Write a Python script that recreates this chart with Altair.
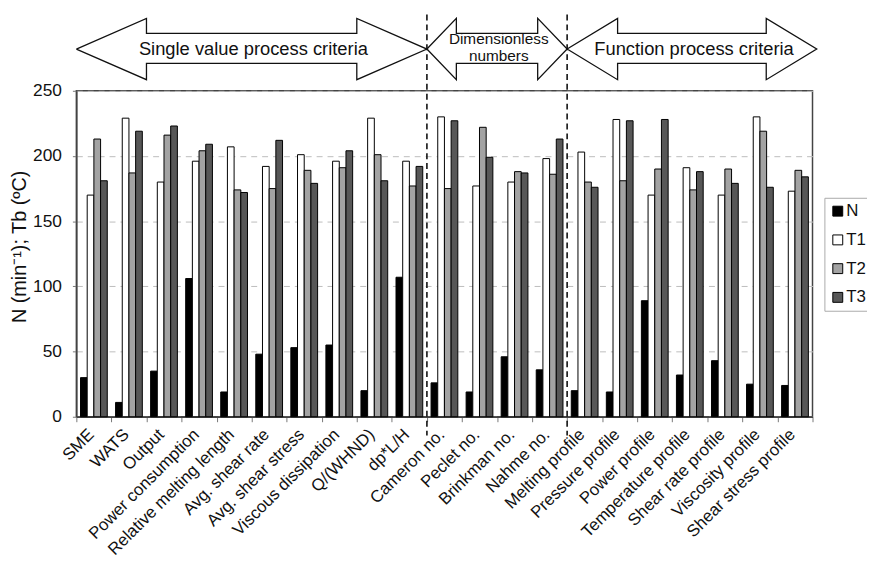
import altair as alt
import pandas as pd

categories = ["SME", "WATS", "Output", "Power consumption", "Relative melting length",
              "Avg. shear rate", "Avg. shear stress", "Viscous dissipation", "Q/(WHND)",
              "dp*L/H", "Cameron no.", "Peclet no.", "Brinkman no.", "Nahme no.",
              "Melting profile", "Pressure profile", "Power profile", "Temperature profile",
              "Shear rate profile", "Viscosity profile", "Shear stress profile"]
series = ["N", "T1", "T2", "T3"]
N_vals = [30, 11, 35, 106, 19, 48, 53, 55, 20, 107, 26, 19, 46, 36, 20, 19, 89, 32, 43, 25, 24]
T1_vals = [170, 229, 180, 196, 207, 192, 201, 196, 229, 196, 230, 177, 180, 198, 203, 228, 170, 191, 170, 230, 173]
T2_vals = [213, 187, 216, 204, 174, 175, 189, 191, 201, 177, 175, 222, 188, 186, 180, 181, 190, 174, 190, 219, 189]
T3_vals = [181, 219, 223, 209, 172, 212, 179, 204, 181, 192, 227, 199, 187, 213, 176, 227, 228, 188, 179, 176, 184]
series_colors = ["#000000", "#ffffff", "#a3a3a3", "#575757"]

# group boundaries (dashed lines) and group labels
boundary_cats = ["Cameron no.", "Melting profile"]
arrow_start = [0, 10, 14]
arrow_end = [10, 14, 21.12]
arrow_head = [2.0, 0.84, 1.44]
arrow_text = ["Single value process criteria", "Dimensionless\nnumbers", "Function process criteria"]
arrow_text_x = [5.05, 12.05, 17.62]

FONT = "Liberation Sans"

rows = []
for s, vals in zip(series, [N_vals, T1_vals, T2_vals, T3_vals]):
    for c, v in zip(categories, vals):
        rows.append({"cat": c, "series": s, "value": v})
df = pd.DataFrame(rows)

# arrow outlines
Y_HT, Y_ST, Y_TIP, Y_SB, Y_HB = 305.5, 294.0, 282.0, 271.0, 258.5
arr_rows = []
for i, (a, b, h) in enumerate(zip(arrow_start, arrow_end, arrow_head)):
    pts = [(a, Y_TIP), (a + h, Y_HT), (a + h, Y_ST), (b - h, Y_ST), (b - h, Y_HT),
           (b, Y_TIP), (b - h, Y_HB), (b - h, Y_SB), (a + h, Y_SB), (a + h, Y_HB), (a, Y_TIP)]
    for k, (px, py) in enumerate(pts):
        arr_rows.append({"arrow": i, "k": k, "ax": px, "ay": py})
arr_df = pd.DataFrame(arr_rows)

txt_big = pd.DataFrame({"tx": [arrow_text_x[0], arrow_text_x[2]],
                        "ty": [Y_TIP, Y_TIP],
                        "t": [arrow_text[0], arrow_text[2]]})
txt_small = pd.DataFrame({"tx": [arrow_text_x[1]], "ty": [Y_TIP], "t": [arrow_text[1]]})

xscale_band = alt.Scale(domain=categories, paddingInner=0, paddingOuter=0)
xscale_q = alt.Scale(domain=[0, 21], nice=False, zero=False)
yscale = alt.Scale(domain=[0, 250], nice=False, zero=False)

bars = alt.Chart(df).mark_bar(stroke="black", strokeWidth=1).encode(
    x=alt.X("cat:N", sort=categories, scale=xscale_band,
            axis=alt.Axis(title=None, labelAngle=-45, labelAlign="right", labelBaseline="middle",
                          tickBand="extent", tickSize=5, labelPadding=10, labelOffset=-3,
                          grid=False, labelFontSize=17, labelFont=FONT, labelColor="#111",
                          domainColor="#444", domainWidth=1.5, tickColor="#777")),
    xOffset=alt.XOffset("series:N", sort=series,
                        scale=alt.Scale(domain=series, paddingInner=0, paddingOuter=0.62)),
    y=alt.Y("value:Q", scale=yscale,
            axis=alt.Axis(title="N (min⁻¹); Tb (ºC)", values=[0, 50, 100, 150, 200, 250],
                          grid=True, gridDash=[6, 5], gridColor="#bdbdbd", gridWidth=1,
                          tickSize=4, tickColor="#777", labelPadding=11,
                          labelFontSize=17.5, labelFont=FONT, labelColor="#111",
                          titleFontSize=20, titleFont=FONT, titleFontWeight="normal",
                          titleColor="#111", titlePadding=3, titleY=157,
                          domainColor="#444", domainWidth=1.5)),
    color=alt.Color("series:N", sort=series,
                    scale=alt.Scale(domain=series, range=series_colors),
                    legend=alt.Legend(title=None, orient="none", legendX=755, legendY=108,
                                      direction="vertical", symbolType="square", symbolSize=100,
                                      symbolStrokeColor="black", symbolStrokeWidth=1,
                                      labelFontSize=17, labelFont=FONT, labelColor="#111",
                                      labelOffset=0, rowPadding=11, padding=5,
                                      strokeColor="#aaaaaa", fillColor="white")),
)

rules = alt.Chart(pd.DataFrame({"cat": boundary_cats})).mark_rule(
    color="#111", strokeWidth=1.6, strokeDash=[6, 4], clip=False
).encode(
    x=alt.X("cat:N", bandPosition=0, scale=xscale_band, axis=None),
    y=alt.value(-77),
    y2=alt.value(348),
)

arrows = alt.Chart(arr_df).mark_line(color="#111", strokeWidth=1.3, clip=False).encode(
    x=alt.X("ax:Q", scale=xscale_q, axis=None),
    y=alt.Y("ay:Q", scale=yscale, axis=None),
    detail="arrow:N",
    order="k:Q",
)

labels_big = alt.Chart(txt_big).mark_text(
    fontSize=18.5, font=FONT, color="#111", clip=False, baseline="middle", align="center"
).encode(
    x=alt.X("tx:Q", scale=xscale_q, axis=None),
    y=alt.Y("ty:Q", scale=yscale, axis=None),
    text="t:N",
)

labels_small = alt.Chart(txt_small).mark_text(
    fontSize=15.5, font=FONT, color="#111", clip=False, baseline="middle", align="center",
    lineBreak="\n", lineHeight=17, dy=-10
).encode(
    x=alt.X("tx:Q", scale=xscale_q, axis=None),
    y=alt.Y("ty:Q", scale=yscale, axis=None),
    text="t:N",
)

chart = alt.layer(bars, rules, arrows, labels_big, labels_small).resolve_scale(
    x="independent", y="independent"
).properties(
    width=743, height=329,
    padding={"left": 69, "top": 81, "right": 55, "bottom": 140},
    autosize=alt.AutoSizeParams(type="none"),
    background="white",
).configure_view(stroke="#444", strokeWidth=1.5)

chart.save("out.html", embed_options={"renderer": "svg", "actions": False})
